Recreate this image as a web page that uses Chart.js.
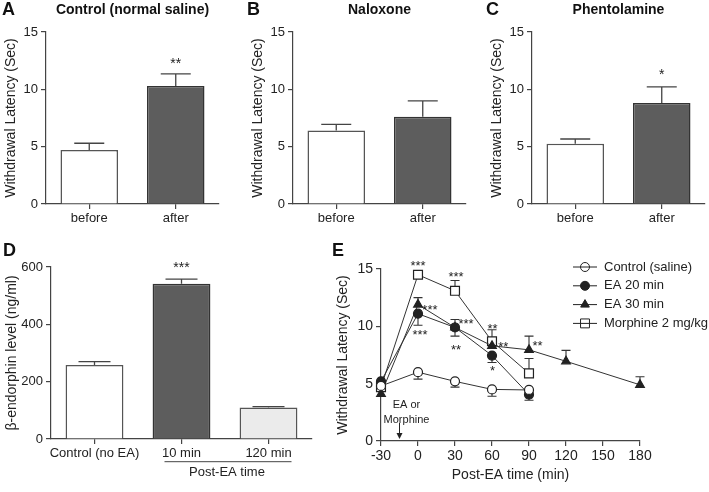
<!DOCTYPE html>
<html>
<head>
<meta charset="utf-8">
<script src="https://cdn.jsdelivr.net/npm/chart.js@4.4.0/dist/chart.umd.min.js"></script>
<style>
  html, body { margin: 0; padding: 0; background: #fff; }
  #wrap { position: relative; width: 709px; height: 492px; overflow: hidden; }
  canvas { position: absolute; }
</style>
</head>
<body>
<div id="wrap">
  <canvas id="chartA" width="236" height="236" style="left:0px;top:0px"></canvas>
  <canvas id="chartB" width="236" height="236" style="left:247px;top:0px"></canvas>
  <canvas id="chartC" width="223" height="236" style="left:486px;top:0px"></canvas>
  <canvas id="chartD" width="330" height="252" style="left:0px;top:240px"></canvas>
  <canvas id="chartE" width="379" height="252" style="left:330px;top:240px"></canvas>
</div>
<script>
// panels A-C: withdrawal latency before / after
const groups = ['before', 'after'];
const salineMean = [4.7, 10.3];
const salineSem = [0.6, 1.05];
const naloxoneMean = [6.4, 7.6];
const naloxoneSem = [0.55, 1.4];
const phentolamineMean = [5.25, 8.8];
const phentolamineSem = [0.42, 1.42];

// panel D: beta-endorphin
const endoLabels = ['Control (no EA)', '10 min', '120 min'];
const endoMean = [258, 542, 110];
const endoSem = [12, 16, 3];

// panel E: time course
const timeShort = [-30, 0, 30, 60, 90];
const timeLong = [-30, 0, 30, 60, 90, 120, 180];
const salineLatency = [4.8, 6.0, 5.2, 4.5, 4.45];
const salineErr = [0.3, 0.6, 0.5, 0.6, 0.2];
const ea20Latency = [5.2, 11.1, 9.9, 7.45, 4.05];
const ea20Err = [0.3, 1.0, 0.75, 0.6, 0.5];
const ea30Latency = [4.1, 11.9, 9.9, 8.3, 7.95, 6.95, 4.9];
const ea30Err = [0.3, 0.6, 0.7, 0.5, 1.2, 0.95, 0.7];
const morphineLatency = [4.7, 14.5, 13.1, 8.7, 5.9];
const morphineErr = [0.3, 0.15, 0.9, 1.0, 1.3];

// significance marks (x = category index or minutes, y = value)
const starsA = [{ text: '**', x: 1, y: 12.55 }];
const starsC = [{ text: '*', x: 1, y: 11.6 }];
const starsD = [{ text: '***', x: 1, y: 612 }];
const starsE = [
  { text: '***', x: 0, y: 15.55 },
  { text: '***', x: 30.8, y: 14.6 },
  { text: '***', x: 9.7, y: 11.7 },
  { text: '***', x: 1.6, y: 9.53 },
  { text: '***', x: 38.9, y: 10.47 },
  { text: '**', x: 30.8, y: 8.28 },
  { text: '**', x: 60.4, y: 10.1 },
  { text: '**', x: 69.2, y: 8.5 },
  { text: '*', x: 60.5, y: 6.4 },
  { text: '**', x: 96.9, y: 8.58 }
];

const FONT = "'Liberation Sans', Arial, Helvetica, sans-serif";
const AX = '#444';
const INK = '#222';
Chart.defaults.font.family = FONT;
Chart.defaults.color = INK;

// error whiskers, drawn through the chart's own scales
const errorBars = {
  id: 'errorBars',
  beforeDatasetsDraw(chart, args, opts) {
    const ctx = chart.ctx;
    const ys = chart.scales.y;
    chart.data.datasets.forEach((ds, i) => {
      if (!ds.errors) return;
      const meta = chart.getDatasetMeta(i);
      const dir = ds.errorDir || 1;
      ctx.save();
      ctx.strokeStyle = opts.color || AX;
      ctx.lineWidth = opts.lineWidth || 1.2;
      meta.data.forEach((el, j) => {
        const raw = ds.data[j];
        const v = typeof raw === 'object' ? raw.y : raw;
        const y0 = ys.getPixelForValue(v);
        const y1 = ys.getPixelForValue(v + dir * ds.errors[j]);
        const half = (opts.cap || 10) / 2;
        ctx.beginPath();
        ctx.moveTo(el.x, y0);
        ctx.lineTo(el.x, y1);
        ctx.moveTo(el.x - half, y1);
        ctx.lineTo(el.x + half, y1);
        ctx.stroke();
      });
      ctx.restore();
    });
  }
};

const stars = {
  id: 'stars',
  afterDatasetsDraw(chart, args, opts) {
    if (!opts.items) return;
    const ctx = chart.ctx;
    const size = opts.size || 14;
    ctx.save();
    ctx.font = size + 'px ' + FONT;
    ctx.fillStyle = INK;
    ctx.textAlign = 'center';
    ctx.textBaseline = 'alphabetic';
    opts.items.forEach(s => {
      const x = chart.scales.x.getPixelForValue(s.x);
      const y = chart.scales.y.getPixelForValue(s.y);
      ctx.fillText(s.text, x, y + size * 0.575);
    });
    ctx.restore();
  }
};

const panelHead = {
  id: 'panelHead',
  afterDraw(chart, args, opts) {
    if (!opts.letter) return;
    const ctx = chart.ctx;
    const area = chart.chartArea;
    ctx.save();
    ctx.fillStyle = '#111';
    ctx.textBaseline = 'middle';
    ctx.textAlign = 'left';
    ctx.font = 'bold 18px ' + FONT;
    ctx.fillText(opts.letter, opts.letterX, opts.letterY);
    if (opts.title) {
      ctx.font = 'bold 14px ' + FONT;
      ctx.textAlign = 'center';
      ctx.fillText(opts.title, (area.left + area.right) / 2, opts.titleY);
    }
    ctx.restore();
  }
};

// "Post-EA time" bracket under panel D
const bracket = {
  id: 'bracket',
  afterDraw(chart, args, opts) {
    if (!opts.text) return;
    const ctx = chart.ctx;
    const xs = chart.scales.x;
    const bottom = chart.chartArea.bottom;
    const a = xs.getPixelForValue(opts.from) + opts.padFrom;
    const b = xs.getPixelForValue(opts.to) + opts.padTo;
    ctx.save();
    ctx.strokeStyle = AX;
    ctx.lineWidth = 1;
    ctx.beginPath();
    ctx.moveTo(a, bottom + opts.lineDy);
    ctx.lineTo(b, bottom + opts.lineDy);
    ctx.stroke();
    ctx.fillStyle = INK;
    ctx.font = '13px ' + FONT;
    ctx.textAlign = 'center';
    ctx.textBaseline = 'middle';
    ctx.fillText(opts.text, (a + b) / 2 + opts.textDx, bottom + opts.textDy);
    ctx.restore();
  }
};

// "EA or Morphine" arrow in panel E
const cue = {
  id: 'cue',
  afterDraw(chart, args, opts) {
    if (!opts.lines) return;
    const ctx = chart.ctx;
    const x = chart.scales.x.getPixelForValue(opts.at);
    const bottom = chart.chartArea.bottom;
    ctx.save();
    ctx.fillStyle = INK;
    ctx.strokeStyle = INK;
    ctx.font = '11px ' + FONT;
    ctx.textAlign = 'center';
    ctx.textBaseline = 'middle';
    opts.lines.forEach((t, k) => ctx.fillText(t, x + opts.textDx, bottom + opts.textDy + k * 14.5));
    ctx.lineWidth = 1;
    ctx.beginPath();
    ctx.moveTo(x, bottom - 18);
    ctx.lineTo(x, bottom - 6);
    ctx.stroke();
    ctx.beginPath();
    ctx.moveTo(x - 3, bottom - 8);
    ctx.lineTo(x + 3, bottom - 8);
    ctx.lineTo(x, bottom - 2);
    ctx.closePath();
    ctx.fill();
    ctx.restore();
  }
};

const insetLegend = {
  id: 'insetLegend',
  afterDraw(chart, args, opts) {
    if (opts.x === undefined) return;
    const ctx = chart.ctx;
    ctx.save();
    chart.data.datasets.forEach((ds, i) => {
      const y = opts.y + i * opts.gap;
      const cx = opts.x + 12;
      ctx.fillStyle = ds.pointBackgroundColor;
      ctx.strokeStyle = INK;
      ctx.lineWidth = 1;
      Chart.helpers.drawPoint(ctx, {
        pointStyle: ds.pointStyle, radius: ds.pointRadius, rotation: 0, borderWidth: 1
      }, cx, y);
      ctx.beginPath();
      ctx.moveTo(opts.x, y);
      ctx.lineTo(opts.x + 24, y);
      ctx.stroke();
      ctx.fillStyle = INK;
      ctx.font = '13px ' + FONT;
      ctx.textAlign = 'left';
      ctx.textBaseline = 'middle';
      ctx.fillText(ds.label, opts.x + 31, y);
    });
    ctx.restore();
  }
};

Chart.register(errorBars, stars, panelHead, bracket, cue, insetLegend);

function yAxis(max, step, title, width, size, pad) {
  return {
    min: 0, max: max,
    ticks: { stepSize: step, font: { size: size }, padding: 3, color: INK },
    grid: { drawOnChartArea: false, tickLength: 5, color: AX, lineWidth: 1.2 },
    border: { color: AX, width: 1.2 },
    title: { display: true, text: title, font: { size: 14 }, padding: { top: pad, bottom: 0 }, color: INK },
    afterFit: s => { s.width = width; }
  };
}

function catAxis(height, size) {
  return {
    offset: true,
    ticks: { font: { size: size }, padding: 2, color: INK, maxRotation: 0, minRotation: 0, autoSkip: false },
    grid: { offset: false, drawOnChartArea: false, tickLength: 5, color: AX, lineWidth: 1.2 },
    border: { color: AX, width: 1.2 },
    afterFit: s => { s.height = height; }
  };
}

function latencyPanel(id, letter, title, mean, sem, marks) {
  new Chart(document.getElementById(id), {
    type: 'bar',
    data: {
      labels: groups,
      datasets: [{
        data: mean,
        errors: sem,
        backgroundColor: ['#ffffff', '#5d5d5d'],
        borderColor: ['#555555', '#333333'],
        borderWidth: 1.5,
        categoryPercentage: 1,
        barPercentage: 0.665
      }]
    },
    options: {
      responsive: false,
      animation: false,
      layout: { padding: { top: 32, right: id === 'chartC' ? 4 : 17, left: 0, bottom: 0 } },
      scales: {
        x: catAxis(32, 13),
        y: yAxis(15, 5, 'Withdrawal Latency (Sec)', 46, 13, 3)
      },
      plugins: {
        legend: { display: false },
        tooltip: { enabled: false },
        errorBars: { cap: 30, color: '#444', lineWidth: 1.3 },
        stars: { items: marks, size: 14 },
        panelHead: { letter: letter, letterX: id === 'chartA' ? 2 : 0, letterY: 10, title: title, titleY: 10 }
      }
    }
  });
}

latencyPanel('chartA', 'A', 'Control (normal saline)', salineMean, salineSem, starsA);
latencyPanel('chartB', 'B', 'Naloxone', naloxoneMean, naloxoneSem, []);
latencyPanel('chartC', 'C', 'Phentolamine', phentolamineMean, phentolamineSem, starsC);

// Panel D
new Chart(document.getElementById('chartD'), {
  type: 'bar',
  data: {
    labels: endoLabels,
    datasets: [{
      data: endoMean,
      errors: endoSem,
      backgroundColor: ['#ffffff', '#5d5d5d', '#ebebeb'],
      borderColor: ['#555555', '#333333', '#555555'],
      borderWidth: 1.5,
      categoryPercentage: 1,
      barPercentage: 0.665
    }]
  },
  options: {
    responsive: false,
    animation: false,
    layout: { padding: { top: 27, right: 18, left: 0, bottom: 0 } },
    scales: {
      x: catAxis(53, 13),
      y: yAxis(600, 200, 'β-endorphin level (ng/ml)', 51, 13, 4)
    },
    plugins: {
      legend: { display: false },
      tooltip: { enabled: false },
      errorBars: { cap: 32, color: '#444', lineWidth: 1.3 },
      stars: { items: starsD, size: 14 },
      panelHead: { letter: 'D', letterX: 3, letterY: 11 },
      bracket: { text: 'Post-EA time', from: 1, to: 2, padFrom: -17, padTo: 23, lineDy: 22.7, textDy: 33.5, textDx: -1 }
    }
  }
});

// Panel E
function toPoints(xs, ys) {
  return xs.map((x, i) => ({ x: x, y: ys[i] }));
}

function series(label, xs, ys, errs, dir, style, radius, fill) {
  return {
    label: label,
    data: toPoints(xs, ys),
    errors: errs,
    errorDir: dir,
    pointStyle: style,
    pointRadius: radius,
    pointBackgroundColor: fill,
    pointBorderColor: INK,
    pointBorderWidth: 1.2,
    borderColor: '#333',
    borderWidth: 1,
    tension: 0,
    clip: false
  };
}

new Chart(document.getElementById('chartE'), {
  type: 'line',
  data: {
    datasets: [
      series('Control (saline)', timeShort, salineLatency, salineErr, -1, 'circle', 4.5, '#ffffff'),
      series('EA 20 min', timeShort, ea20Latency, ea20Err, -1, 'circle', 4.5, INK),
      series('EA 30 min', timeLong, ea30Latency, ea30Err, 1, 'triangle', 5, INK),
      series('Morphine 2 mg/kg', timeShort, morphineLatency, morphineErr, 1, 'rect', 6.3, '#ffffff')
    ]
  },
  options: {
    responsive: false,
    animation: false,
    layout: { padding: { top: 29, right: 69, left: 0, bottom: 0 } },
    scales: {
      x: {
        type: 'linear',
        min: -30, max: 180,
        ticks: { stepSize: 30, font: { size: 14 }, padding: 2, color: INK },
        grid: { drawOnChartArea: false, tickLength: 5, color: AX, lineWidth: 1.2 },
        border: { color: AX, width: 1.2 },
        title: { display: true, text: 'Post-EA time (min)', font: { size: 14 }, padding: { top: 0, bottom: 8 }, color: INK },
        afterFit: s => { s.height = 51; }
      },
      y: yAxis(15, 5, 'Withdrawal Latency (Sec)', 51, 14, 5)
    },
    plugins: {
      legend: { display: false },
      tooltip: { enabled: false },
      errorBars: { cap: 9, color: '#333', lineWidth: 1.1 },
      stars: { items: starsE, size: 13 },
      panelHead: { letter: 'E', letterX: 2, letterY: 11 },
      cue: { at: -15, lines: ['EA or', 'Morphine'], textDx: 7, textDy: -36 },
      insetLegend: { x: 243, y: 27, gap: 18.8 }
    }
  }
});
</script>
</body>
</html>
